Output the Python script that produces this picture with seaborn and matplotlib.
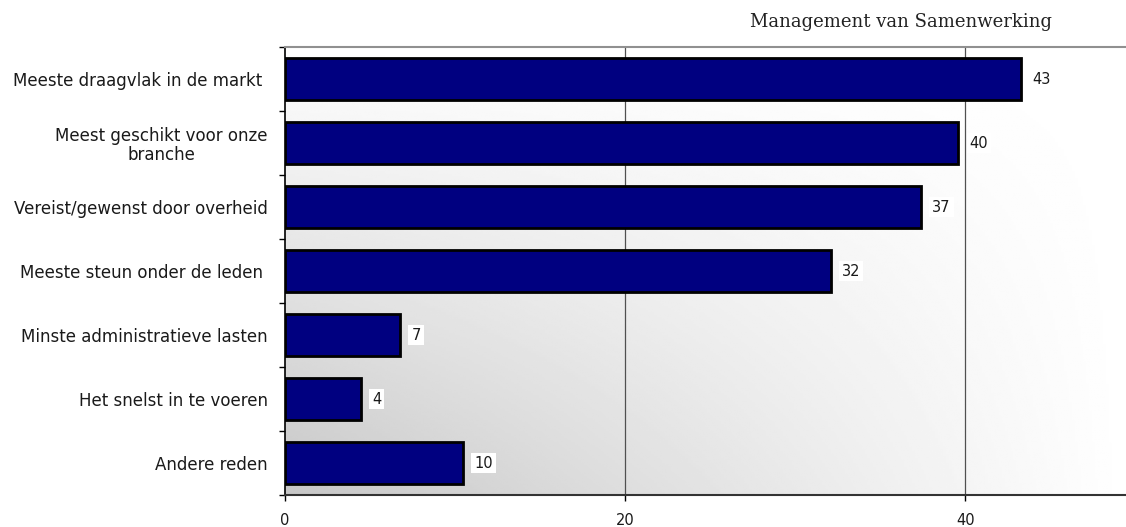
import matplotlib
matplotlib.use("Agg")
import matplotlib.pyplot as plt
import numpy as np
import pandas as pd
import seaborn as sns
from matplotlib.ticker import FixedLocator

# Data
categories = [
    "Meeste draagvlak in de markt ",
    "Meest geschikt voor onze\nbranche",
    "Vereist/gewenst door overheid",
    "Meeste steun onder de leden ",
    "Minste administratieve lasten",
    "Het snelst in te voeren",
    "Andere reden",
]
values = [43.3, 39.6, 37.4, 32.1, 6.8, 4.5, 10.5]
value_labels = ["43", "40", "37", "32", "7", "4", "10"]
x_ticks = [0, 20, 40]
title = "Management van Samenwerking"

df = pd.DataFrame({"reden": categories, "waarde": values})

sns.set_style("white")
plt.rcParams["font.family"] = ["DejaVu Sans"]
plt.rcParams["text.color"] = "#1a1a1a"
plt.rcParams["xtick.color"] = "#1a1a1a"
plt.rcParams["ytick.color"] = "#1a1a1a"

W, H = 1126, 527
fig = plt.figure(figsize=(W / 100, H / 100), dpi=100)
ax = fig.add_axes([284.5 / W, 1 - 495 / H, 1 - 284.5 / W, (495 - 47) / H])

# gradient background: dark bottom-left, white top-right
gx, gy = np.meshgrid(np.linspace(0, 1, 300), np.linspace(0, 1, 200))
dark = 0.22 * ((1 - gx) * (1 - gy))
grad = 1 - dark
ax.imshow(grad, extent=(0, 1, 0, 1), transform=ax.transAxes, cmap="gray",
          vmin=0, vmax=1, aspect="auto", origin="lower", zorder=0)

sns.barplot(data=df, x="waarde", y="reden", orient="h", color="#000080",
            saturation=1, edgecolor="black", linewidth=2, width=0.67, ax=ax, zorder=3)

ax.set_xlim(0, (W - 284.5) / 17.02)
ax.set_ylim(len(categories) - 0.5, -0.5)

for xv in x_ticks[1:]:
    ax.axvline(xv, color="#505050", lw=0.9, zorder=1)

# value labels in white boxes
for i, (v, lab) in enumerate(zip(values, value_labels)):
    ax.annotate(lab, (v, i), xytext=(8, 0), textcoords="offset points",
                va="center", ha="left", fontsize=10.5, color="#1a1a1a", zorder=5,
                bbox=dict(boxstyle="square,pad=0.2", fc="white", ec="none"))

ax.set_xticks(x_ticks)
ax.set_xticklabels([str(t) for t in x_ticks], fontsize=10.5)
ax.set_yticks(range(len(categories)))
ax.set_yticklabels(categories, fontsize=12, multialignment="center", linespacing=1.1)
ax.yaxis.set_minor_locator(FixedLocator(np.arange(-0.5, len(categories), 1)))
ax.tick_params(axis="y", which="major", length=0, pad=12)
ax.tick_params(axis="y", which="minor", length=4, width=1, color="black", direction="out", left=True)
ax.tick_params(axis="x", which="major", length=4, width=1, color="black", direction="out", pad=9, bottom=True)
ax.set_xlabel("")
ax.set_ylabel("")

for s in ["left", "bottom", "top"]:
    ax.spines[s].set_visible(True)
ax.spines["left"].set_color("black")
ax.spines["left"].set_linewidth(1.2)
ax.spines["bottom"].set_color("#333333")
ax.spines["bottom"].set_linewidth(1.5)
ax.spines["top"].set_color("#909090")
ax.spines["top"].set_linewidth(1.5)
ax.spines["right"].set_visible(False)

fig.text(1052 / W, 1 - 27 / H, title, ha="right", va="baseline",
         fontsize=13, family="DejaVu Serif", color="#222222")

fig.savefig("out.png", dpi=100)
